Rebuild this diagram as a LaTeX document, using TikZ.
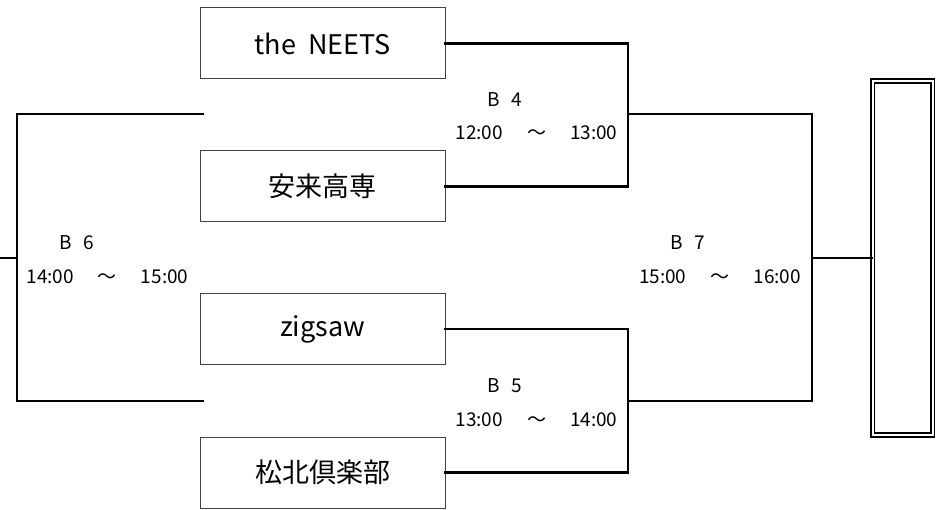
\documentclass[tikz,border=0pt]{standalone}
\usepackage{fontspec}
\setmainfont{Noto Sans CJK JP}
\usetikzlibrary{positioning}

\begin{document}
\begin{tikzpicture}[%
    x=1pt,
    y=-1pt,
    wire/.style={%
      line width=2.4pt,
      line cap=rect
    },
    team/.style={%
      draw=black!75,
      line width=1pt,
      minimum width=245pt,
      minimum height=71pt,
      inner sep=0pt,
      font=\fontsize{27}{30}\selectfont
    },
    champ/.style={%
      draw,
      double,
      line width=1.8pt,
      double distance=2pt,
      minimum width=60pt,
      minimum height=354pt,
      inner sep=0pt
    },
    game/.style={%
      inner sep=0pt,
      font=\fontsize{19}{22}\selectfont
    }
  ]
    \useasboundingbox (0,0) rectangle (949,510);

    \node[team] (neets)   at (322.5,43.5)  {the\ \ NEETS};
    \node[team] (yasugi)  at (322.5,186.5) {安来高専};
    \node[team] (zigsaw)  at (322.5,329)   {zigsaw};
    \node[team] (shohoku) at (322.5,472.5) {松北倶楽部};
    \node[champ] (winner) at (902.5,258)   {};

    \coordinate (m4)   at (628,114);
    \coordinate (m5)   at (628,401);
    \coordinate (m7)   at (812,258);
    \coordinate (m6)   at (17,258);
    \coordinate (s6a)  at (203,114);
    \coordinate (s6b)  at (203,401);
    \coordinate (root) at (0,258);

    % brackets
    \draw[wire] (neets.east) -| (m4) |- (yasugi.east);
    \draw[wire] (zigsaw.east) -| (m5) |- (shohoku.east);
    \draw[wire] (m4) -| (m7) |- (m5);
    \draw[wire] (m7) -- (winner.west);
    \draw[wire] (s6a) -| (m6) |- (s6b);
    \draw[wire] (m6) -- (root);

    % match labels
    \node[game] (b4)  at (505,100)   {B\hspace{0.6em}4};
    \node[game] (t4)  at (536.5,133) {12:00\hspace{24pt}～\hspace{24pt}13:00};
    \node[game] (b5)  at (505,386)   {B\hspace{0.6em}5};
    \node[game] (t5)  at (536.5,420) {13:00\hspace{24pt}～\hspace{24pt}14:00};
    \node[game] (b6)  at (77,243)    {B\hspace{0.6em}6};
    \node[game] (t6)  at (107.5,277) {14:00\hspace{24pt}～\hspace{24pt}15:00};
    \node[game] (b7)  at (688,243)   {B\hspace{0.6em}7};
    \node[game] (t7)  at (720,277)   {15:00\hspace{24pt}～\hspace{24pt}16:00};
  \end{tikzpicture}
\end{document}
